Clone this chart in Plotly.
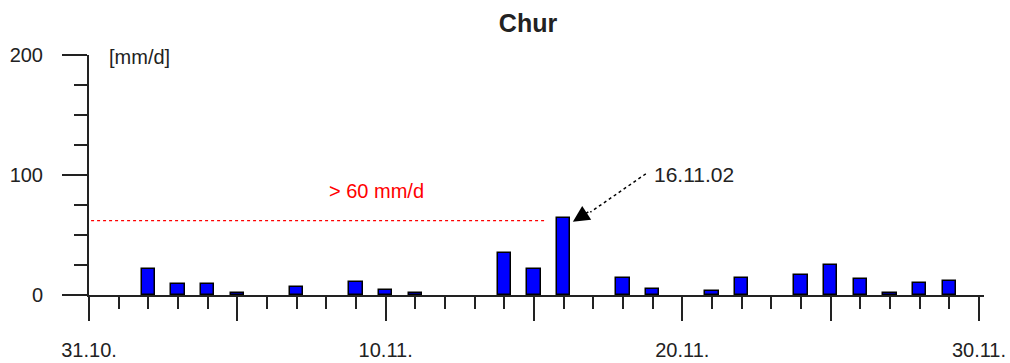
import plotly.graph_objects as go

# Days since 31.10. (1 = 1.11., ..., 30 = 30.11.)
days = list(range(1, 31))
precip = [0, 22, 9, 9, 2, 0, 7, 0, 11, 4,
          2, 0, 0, 35, 22, 64, 0, 14, 5, 0,
          3, 14, 0, 17, 25, 13, 1.5, 10, 12, 0]

x_tickvals = [0, 5, 10, 15, 20, 25, 30]
x_ticktext = ["31.10.", "", "10.11.", "", "20.11.", "", "30.11."]
y_tickvals = [0, 100, 200]

threshold = 62
threshold_label = "> 60 mm/d"
peak_day = 16
peak_label = "16.11.02"

FONT = "Liberation Sans, Arial, sans-serif"
INK = "#222222"

fig = go.Figure()
fig.add_trace(go.Bar(
    x=days, y=precip, width=0.45,
    marker=dict(color="#0000ff",
                line=dict(color="#000000", width=[1.5 if v > 0 else 0 for v in precip])),
    showlegend=False,
))

fig.update_layout(
    width=1010, height=363,
    margin=dict(l=89, r=26, t=55, b=68, autoexpand=False),
    plot_bgcolor="white", paper_bgcolor="white",
    font=dict(family=FONT, size=20, color=INK),
    bargap=0,
    title=dict(text="<b>Chur</b>", x=(528 - 89) / 895, xref="paper", xanchor="center",
               y=1 - 23 / 363, yanchor="middle", font=dict(size=25, color=INK)),
)

fig.update_xaxes(
    range=[0, 30.17], showgrid=False, zeroline=False, automargin=False,
    showline=True, linecolor=INK, linewidth=2,
    tickmode="array", tickvals=x_tickvals, ticktext=x_ticktext,
    ticks="outside", ticklen=24, tickwidth=2, tickcolor=INK,
    ticklabelstandoff=12,
    minor=dict(dtick=1, tick0=0, ticks="outside", ticklen=12, tickwidth=2, tickcolor=INK),
    tickfont=dict(size=20),
)
fig.update_yaxes(
    range=[0, 200], showgrid=False, zeroline=False, automargin=False,
    showline=True, linecolor=INK, linewidth=2,
    tickmode="array", tickvals=y_tickvals,
    ticks="outside", ticklen=25, tickwidth=2, tickcolor=INK,
    ticklabelstandoff=15,
    minor=dict(dtick=25, tick0=0, ticks="outside", ticklen=13, tickwidth=2, tickcolor=INK),
    tickfont=dict(size=20),
)

# threshold line
fig.add_shape(type="line", xref="x", yref="y", x0=0.07, x1=15.4, y0=threshold, y1=threshold,
              line=dict(color="#ff0000", width=1.2, dash="dot"))
fig.add_annotation(x=9.7, y=86.5, xref="x", yref="y", text=threshold_label, showarrow=False,
                   font=dict(color="#ff0000", size=20), xanchor="center", yanchor="middle")

# unit label
fig.add_annotation(x=0.6, y=198, xref="x", yref="y", text="[mm/d]", showarrow=False,
                   font=dict(size=20), xanchor="left", yanchor="middle")

# dotted arrow to peak
tip_x, tip_y = peak_day + 0.31, 61
fig.add_shape(type="line", xref="x", yref="y", x0=18.77, y0=101, x1=16.9, y1=69,
              line=dict(color="#000000", width=1.5, dash="dot"))
fig.add_annotation(x=tip_x, y=tip_y, xref="x", yref="y", text="", showarrow=True,
                   arrowhead=2, arrowsize=2.2, arrowwidth=1.5, arrowcolor="#000000",
                   ax=17, ay=-11)
fig.add_annotation(x=18.98, y=100.8, xref="x", yref="y", text=peak_label, showarrow=False,
                   font=dict(size=21), xanchor="left", yanchor="middle")

fig.write_html("out.html", config={"displayModeBar": False},
               post_script="document.body.style.margin='0';document.body.style.overflow='hidden';")
